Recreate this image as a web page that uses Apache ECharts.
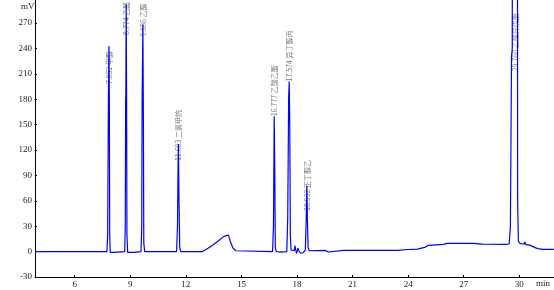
<!DOCTYPE html>
<html><head><meta charset="utf-8">
<script src="https://cdn.jsdelivr.net/npm/echarts@6/dist/echarts.min.js"></script>
<style>html,body{margin:0;padding:0;background:#fff}#c{width:554px;height:290px}</style>
</head><body><div id="c"></div>
<script>
// Chromatogram signal (retention time in min, response in mV)
var times = [3.86,7.74,7.78,7.82,7.85,7.87,7.89,7.92,8.10,8.20,
  8.70,8.73,8.75,8.76,8.78,8.80,8.82,8.86,9.20,9.30,
  9.58,9.62,9.64,9.65,9.68,9.71,9.73,9.78,
  11.50,11.55,11.58,11.60,11.63,11.67,11.72,
  12.90,13.20,13.50,13.80,14.05,14.15,14.30,14.40,14.55,14.70,14.80,
  16.68,16.73,16.77,16.80,16.83,16.88,17.05,17.45,
  17.50,17.55,17.58,17.61,17.64,17.68,17.75,17.85,17.89,17.93,17.98,18.05,18.10,18.20,18.35,18.45,
  18.50,18.53,18.56,18.60,18.66,18.75,19.50,19.70,19.80,20.50,23.40,24.00,24.50,24.90,25.10,25.50,25.90,26.10,
  27.30,27.40,27.50,27.60,28.00,28.10,28.20,29.30,29.45,29.52,29.58,29.62,29.65,29.88,29.91,29.95,30.05,
  30.26,30.30,30.34,30.60,30.85,31.00,31.30,31.87];
var signal = [0,0,20,180,243,180,20,-1,-1,0,
  0,30,180,185,292,200,20,-1,-1,0,
  0,30,176,178,268,150,10,0,
  0,30,100,127,60,5,0,
  0,4,8.5,13.5,18,19.5,19.5,12,4,1,0,
  0,30,160,100,5,0,-0.5,0,
  40,182,201,150,20,2,1,1,7,2,-2,4,1,-2,-1,2,
  40,78,40,5,1,1.5,1.5,-0.5,0.5,1.5,1.5,2.5,3,5,7.4,8,8.6,9.8,
  9.8,11,9.8,9.2,8.9,9.5,8.7,8.6,9,30,230,240,1200,1200,60,12,9.5,
  9,11.4,8.6,7.4,4.7,3.5,2.7,2.7];

// Peak annotations
var peakTimes   = [7.852, 8.774, 9.686, 11.603, 16.777, 17.574, 18.532, 29.760];
var peakRT      = ["7.852","8.774","9.686","11.603","16.777","17.574","18.532","29.760"];
var peakNames   = ["甲醇","乙醛","乙醇","二氯甲烷","乙酸乙酯","异丁醇丙","正丁醇乙","乙酸异戊酯"];
var labelAnchor = [198, 256, 254, 107, 160, 201, 48, 213];

var xTicks = [6,9,12,15,18,21,24,27,30];
var yTicks = [-30,0,30,60,90,120,150,180,210,240,270];

var sig = times.map(function(t,i){return [t, signal[i]];});
var lab = peakTimes.map(function(t,i){return {value:[t, labelAnchor[i]], text: peakRT[i]+' '+peakNames[i]};});

var font = 'Liberation Serif';
var chart = echarts.init(document.getElementById('c'), null, {renderer:'canvas'});
chart.setOption({
  animation:false,
  backgroundColor:'#fff',
  grid:{left:35, right:0, top:0, bottom:13, containLabel:false},
  xAxis:{type:'value', min:3.857, max:31.873,
    axisLine:{onZero:false, lineStyle:{color:'#000', width:1}},
    axisTick:{inside:true, length:2, customValues:xTicks, lineStyle:{color:'#000'}},
    axisLabel:{customValues:xTicks, fontFamily:font, fontSize:9, color:'#222', margin:3},
    splitLine:{show:false}},
  yAxis:{type:'value', min:-30, max:297.2,
    axisLine:{show:true, lineStyle:{color:'#000', width:1}},
    axisTick:{show:true, inside:true, length:2, customValues:yTicks, lineStyle:{color:'#000'}},
    axisLabel:{customValues:yTicks, fontFamily:font, fontSize:9, color:'#222', margin:3},
    splitLine:{show:false}},
  graphic:[
    {type:'text', left:21, top:2, style:{text:'mV', font:'9px "Liberation Serif"', fill:'#222'}},
    {type:'text', left:536, top:279, style:{text:'min', font:'9px "Liberation Serif"', fill:'#222'}}
  ],
  series:[
    {type:'line', data:sig, showSymbol:false, symbol:'none', clip:true,
     lineStyle:{color:'#0000ff', width:1.2}, silent:true},
    {type:'scatter', data:lab, symbolSize:0, silent:true,
     label:{show:true, position:[0,0], rotate:90, align:'left', verticalAlign:'middle',
       formatter:function(p){return p.data.text;}, fontFamily:'Noto Sans CJK SC', fontSize:7, color:'#555'}}
  ]
});
</script></body></html>
